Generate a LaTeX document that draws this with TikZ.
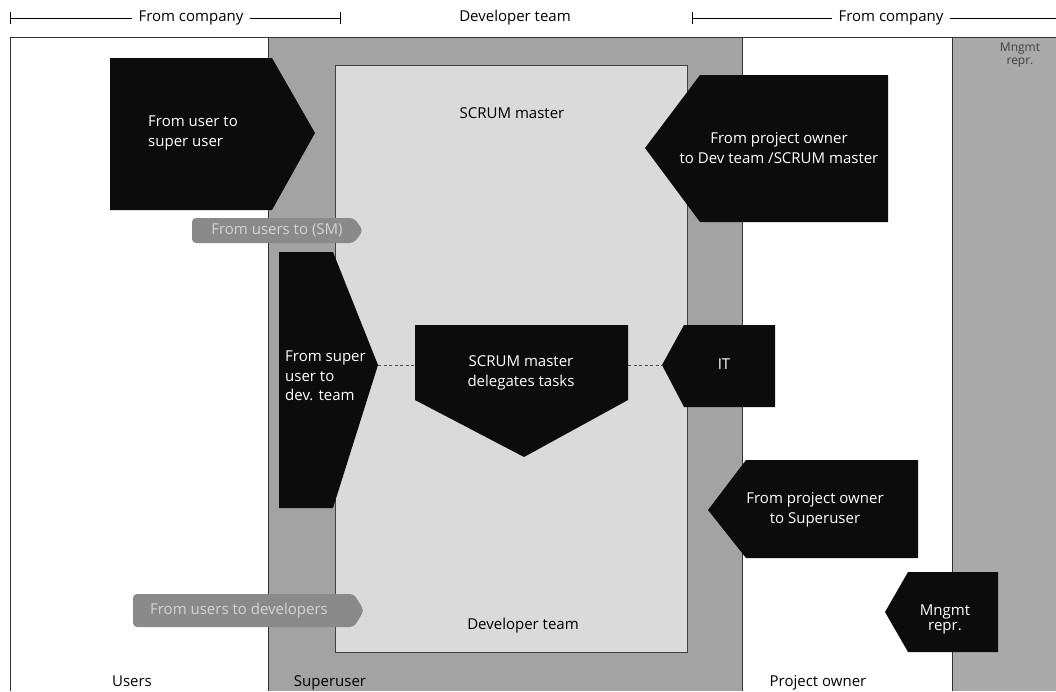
\documentclass[tikz,border=0pt]{standalone}
\usepackage{fontspec}
\setmainfont{Open Sans}
\definecolor{colgray}{RGB}{163,163,163}
\definecolor{mgray}{RGB}{170,170,170}
\definecolor{panel}{RGB}{218,218,218}
\definecolor{tagfill}{RGB}{138,138,138}
\definecolor{tagtext}{RGB}{212,212,212}
\definecolor{ink}{RGB}{12,12,12}
\begin{document}
\begin{tikzpicture}[x=1pt,y=-1pt,
  txt/.style={font=\fontsize{15}{19.5}\selectfont, inner sep=0pt},
  wtxt/.style={txt, text=white},
  blk/.style={fill=ink, draw=none},
  tag/.style={fill=tagfill, draw=none, rounded corners=4pt},
  tagtxt/.style={txt, text=tagtext},
  link/.style={dashed, dash pattern=on 3pt off 2.5pt, line width=0.7pt, draw=black!70},
  sep/.style={line width=0.8pt, draw=black!80},
  brk/.style={line width=0.7pt}]
\useasboundingbox (0,0) rectangle (1056,691);
\fill[white] (0,0) rectangle (1056,691);

% column backgrounds
\fill[colgray] (268,37) rectangle (742,691);
\fill[mgray] (952,37) rectangle (1056,691);
\draw[sep] (10,691) -- (10,37) -- (1056,37);
\draw[sep] (268,37) -- (268,691);
\draw[sep] (742,37) -- (742,691);
\draw[sep] (952,37) -- (952,691);

% developer team panel
\draw[fill=panel, line width=1pt, draw=black!75] (335,65) rectangle (687,652);

% header brackets
\node[txt] (fc1) at (191,18) {From company};
\node[txt] (dt) at (515,18) {Developer team};
\node[txt] (fc2) at (891,18) {From company};
\draw[brk] (10,12) -- (10,24);
\draw[brk] (340,12) -- (340,24);
\draw[brk] (692,12) -- (692,24);
\draw[brk] (10,18) -- ([xshift=-6pt]fc1.west);
\draw[brk] ([xshift=6pt]fc1.east) -- (340,18);
\draw[brk] (692,18) -- ([xshift=-6pt]fc2.west);
\draw[brk] ([xshift=6pt]fc2.east) -- (1056,18);

% column labels
\node[txt, anchor=base] (lu) at (132,686) {Users};
\node[txt, anchor=base] (ls) at (330,686) {Superuser};
\node[txt, anchor=base] (lp) at (818,686) {Project owner};
\node[txt, text=black!75, align=center, font=\fontsize{12}{13}\selectfont] (lm) at (1020,55) {Mngmt\\repr.};
\node[txt] (lsm) at (512,113) {SCRUM master};
\node[txt] (ldt) at (523,626) {Developer team};

% from user to super user
\fill[blk] (110,58) -- (272,58) -- (315,133) -- (272,210) -- (110,210) -- cycle;
\coordinate (usTip) at (315,133);
\node[wtxt, align=left, anchor=west] (us) at (148,133) {From user to\\super user};

% from super user to dev. team
\fill[blk] (279,252) -- (333,252) -- (378,365) -- (333,508) -- (279,508) -- cycle;
\coordinate (sdTip) at (378,365);
\node[wtxt, align=left, anchor=west] (sd) at (285,376) {From super\\user to\\dev. team};

% SCRUM master delegates tasks
\fill[blk] (415,325) -- (628,325) -- (628,400) -- (524,457) -- (415,400) -- cycle;
\coordinate (smL) at (415,365);
\coordinate (smR) at (628,365);
\node[wtxt, align=center] (sm) at (521,373) {SCRUM master\\delegates tasks};

% IT
\fill[blk] (662,365) -- (684,325) -- (775,325) -- (775,407) -- (684,407) -- cycle;
\coordinate (itTip) at (662,365);
\node[wtxt] (it) at (724,364) {IT};

\draw[link] (sdTip) -- (smL);
\draw[link] (smR) -- (itTip);

% from project owner to dev team
\fill[blk] (645,148) -- (700,75) -- (888,75) -- (888,222) -- (700,222) -- cycle;
\node[wtxt, align=center] (pd) at (779,148) {From project owner\\to Dev team /SCRUM master};

% from project owner to superuser
\fill[blk] (708,510) -- (746,460) -- (918,460) -- (918,558) -- (746,558) -- cycle;
\node[wtxt, align=center] (ps) at (815,510) {From project owner\\to Superuser};

% management representative
\fill[blk] (885,612) -- (908,572) -- (998,572) -- (998,652) -- (908,652) -- cycle;
\node[wtxt, align=center, font=\fontsize{15}{15}\selectfont] (mr) at (945,619) {Mngmt\\repr.};

% grey tags
\fill[tag] (192,218) -- (354,218) -- (363,230.5) -- (354,243) -- (192,243) -- cycle;
\node[tagtxt] (t1) at (277,230.5) {From users to (SM)};
\fill[tag] (133,594) -- (354,594) -- (364,610.5) -- (354,627) -- (133,627) -- cycle;
\node[tagtxt] (t2) at (239,610.5) {From users to developers};
\end{tikzpicture}
\end{document}
